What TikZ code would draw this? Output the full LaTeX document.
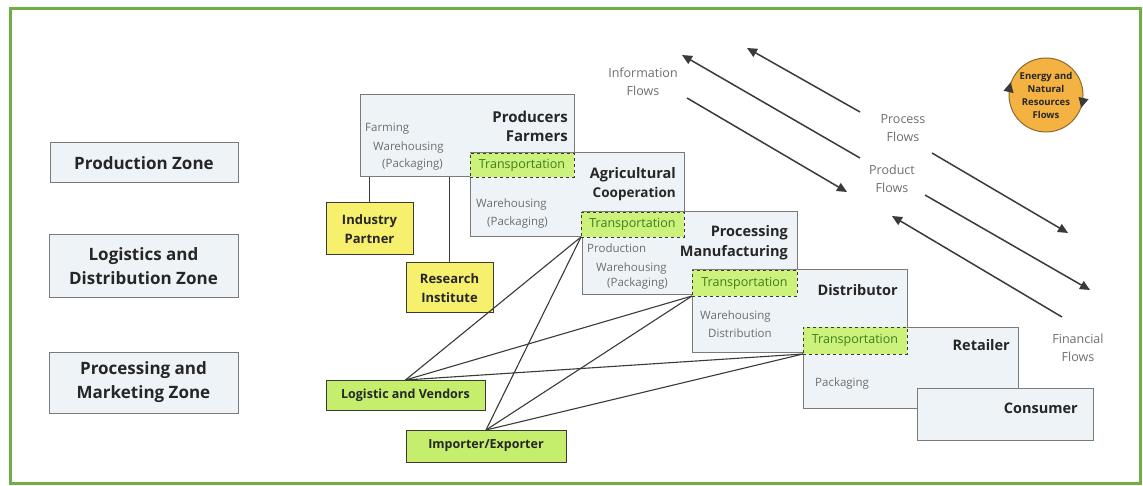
\documentclass[tikz,border=0pt]{standalone}
\usepackage{fontspec}
\setmainfont{Open Sans}
\usetikzlibrary{arrows.meta,shapes.geometric}
\definecolor{frameg}{HTML}{70AD47}
\definecolor{boxfill}{HTML}{EDF3F6}
\definecolor{boxline}{HTML}{7A7A7A}
\definecolor{ylw}{HTML}{F6F06C}
\definecolor{lgreen}{HTML}{C4EE6C}
\definecolor{tgreen}{HTML}{CDF27C}
\definecolor{ttext}{HTML}{3E7D1E}
\definecolor{graytext}{HTML}{6E6E6E}
\definecolor{titletext}{HTML}{262626}
\definecolor{orng}{HTML}{F4B243}
\definecolor{orngline}{HTML}{8C6A2A}
\definecolor{lineg}{HTML}{3A3A3A}
\begin{document}
\begin{tikzpicture}[x=1pt,y=-1pt,
  zone/.style={draw=boxline, line width=1pt, fill=boxfill, inner sep=0pt, outer sep=0pt, align=center, text=titletext, font=\fontsize{17}{24}\selectfont\bfseries},
  actor/.style={draw=boxline, line width=1pt, fill=boxfill, anchor=north west, inner sep=0pt, outer sep=0pt},
  transbox/.style={draw=lineg, dashed, line width=0.9pt, fill=tgreen, anchor=north west, inner sep=0pt, outer sep=0pt, text=ttext, font=\fontsize{12.5}{15}\selectfont},
  ybox/.style={draw=lineg, line width=1pt, fill=ylw, inner sep=0pt, outer sep=0pt, align=center, text=titletext, font=\fontsize{13}{19}\selectfont\bfseries},
  gbox/.style={draw=lineg, line width=1pt, fill=lgreen, inner sep=0pt, outer sep=0pt, align=center, text=titletext, font=\fontsize{12.5}{15}\selectfont\bfseries},
  ttl/.style={anchor=base east, inner sep=0pt, text=titletext, font=\fontsize{14.5}{18}\selectfont\bfseries},
  desc/.style={anchor=base west, inner sep=0pt, text=graytext, font=\fontsize{11.5}{14}\selectfont},
  flowlbl/.style={align=center, inner sep=0pt, text=graytext, font=\fontsize{12.5}{18}\selectfont},
  conn/.style={draw=lineg, line width=1.1pt},
  flow/.style={draw=lineg, line width=1.5pt, -{Triangle[length=10pt,width=9pt]}}
]
\useasboundingbox (0,0) rectangle (1143,486);
\fill[white] (0,0) rectangle (1143,486);
\draw[frameg, line width=3pt] (10,9) rectangle (1140,483);

% zones
\node[zone, minimum width=188pt, minimum height=40pt] (z1) at (144,163) {Production Zone};
\node[zone, minimum width=189pt, minimum height=63pt] (z2) at (143.5,266.5) {Logistics and\\Distribution Zone};
\node[zone, minimum width=189pt, minimum height=61pt] (z3) at (143.5,382.5) {Processing and\\Marketing Zone};

% producers
\node[actor, minimum width=214pt, minimum height=82pt] (prod) at (360,95) {};
\node[ttl, font=\fontsize{15}{18}\selectfont\bfseries] (prodt1) at (568,122.5) {Producers};
\node[ttl, font=\fontsize{15}{18}\selectfont\bfseries] (prodt2) at (568,141.5) {Farmers};
\node[desc] (prodd1) at (365,132) {Farming};
\node[desc] (prodd2) at (373,151) {Warehousing};
\node[desc] (prodd3) at (382,168) {(Packaging)};

% yellow partners
\draw[conn] (prod.south -| 369.5,0) -- (369.5,203);
\draw[conn] (prod.south -| 449.5,0) -- (449.5,263);
\node[ybox, minimum width=87pt, minimum height=52pt] (ip) at (369.5,229) {Industry\\Partner};
\node[ybox, minimum width=87pt, minimum height=50pt] (ri) at (449.5,288) {Research\\Institute};

% agricultural cooperation
\node[actor, minimum width=214pt, minimum height=84pt] (agri) at (470,153) {};
\node[ttl] (agrit1) at (676,179) {Agricultural};
\node[ttl, font=\fontsize{13.5}{18}\selectfont\bfseries] (agrit2) at (676,198) {Cooperation};
\node[desc] (agrid1) at (476,208) {Warehousing};
\node[desc] (agrid2) at (487,226) {(Packaging)};
\node[transbox, minimum width=104pt, minimum height=24pt] (t1) at (470,153) {Transportation};

% processing
\node[actor, minimum width=215pt, minimum height=83pt] (proc) at (582,212) {};
\node[ttl] (proct1) at (788,237) {Processing};
\node[ttl] (proct2) at (788,257) {Manufacturing};
\node[desc] (procd1) at (587,252.5) {Production};
\node[desc] (procd2) at (596,271.5) {Warehousing};
\node[desc] (procd3) at (607,287) {(Packaging)};
\node[transbox, minimum width=103pt, minimum height=25pt] (t2) at (581,212) {Transportation};

% distributor
\node[actor, minimum width=215pt, minimum height=82pt] (dist) at (692,270) {};
\node[ttl] (distt) at (898,295) {Distributor};
\node[desc] (distd1) at (700,319.5) {Warehousing};
\node[desc] (distd2) at (708,337.5) {Distribution};
\node[transbox, minimum width=105pt, minimum height=26pt] (t3) at (692,270) {Transportation};

% retailer
\node[actor, minimum width=215pt, minimum height=81pt] (ret) at (803,327) {};
\node[ttl] (rett) at (1010,350) {Retailer};
\node[desc] (retd) at (815,386) {Packaging};
\node[transbox, minimum width=104pt, minimum height=27pt] (t4) at (803,327) {Transportation};

% consumer
\node[actor, minimum width=176pt, minimum height=52pt] (cons) at (917,388) {};
\node[ttl] (const) at (1078,413) {Consumer};

% logistics partners
\node[gbox, minimum width=159pt, minimum height=30pt] (lv) at (405.5,395) {Logistic and Vendors};
\node[gbox, minimum width=160pt, minimum height=32pt] (ie) at (486,446) {Importer/Exporter};

\draw[conn] (lv.north) -- (t2.south west);
\draw[conn] (lv.north) -- (t3.south west);
\draw[conn] (lv.north) -- (t4.south west);
\draw[conn] (ie.north) -- (t2.south west);
\draw[conn] (ie.north) -- (t3.south west);
\draw[conn] (ie.north) -- (t4.south west);

% flows
\coordinate (a1) at (687,98);   \coordinate (a2) at (847,192);
\coordinate (b1) at (860,158);  \coordinate (b2) at (682,55);
\coordinate (c1) at (860,112);  \coordinate (c2) at (747,48);
\coordinate (d1) at (932,153);  \coordinate (d2) at (1068,233);
\coordinate (e1) at (925,195);  \coordinate (e2) at (1090,290);
\coordinate (f1) at (1062,317); \coordinate (f2) at (892,216);
\draw[flow] (a1) -- (a2);
\draw[flow] (b1) -- (b2);
\draw[flow] (c1) -- (c2);
\draw[flow] (d1) -- (d2);
\draw[flow] (e1) -- (e2);
\draw[flow] (f1) -- (f2);

\node[flowlbl] (linfo) at (643,82) {Information\\Flows};
\node[flowlbl] (lproc) at (903,128) {Process\\Flows};
\node[flowlbl] (lprod) at (892,179) {Product\\Flows};
\node[flowlbl] (lfin) at (1078,348) {Financial\\Flows};

% energy circle
\node[circle, draw=orngline, line width=1pt, fill=orng, minimum size=74pt, inner sep=0pt, align=center, text=titletext, font=\fontsize{9.5}{13}\selectfont\bfseries] (energy) at (1046,95) {Energy and\\Natural\\Resources\\Flows};
\draw[draw=lineg, line width=1pt, -{Triangle[length=10pt,width=10pt]}] (energy.174) -- (energy.160);
\draw[draw=lineg, line width=1pt, -{Triangle[length=10pt,width=10pt]}] (energy.-6) -- (energy.-20);
\end{tikzpicture}
\end{document}
